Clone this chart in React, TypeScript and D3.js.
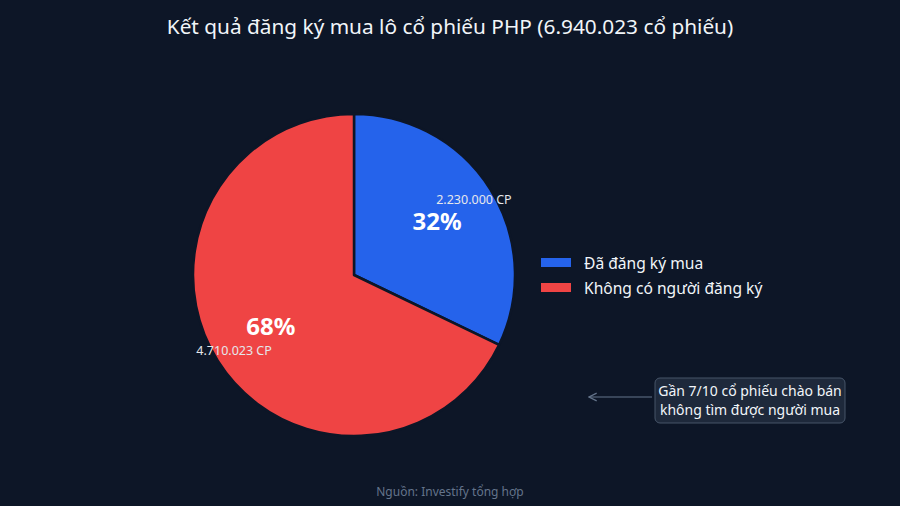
import * as d3 from "d3";

const categories = ["Đã đăng ký mua", "Không có người đăng ký"];
const shares = [2230000, 4710023];
const shareLabels = ["2.230.000 CP", "4.710.023 CP"];
const colors = ["#2563eb", "#ef4444"];

const width = 900;
const height = 506;
const bg = "#0d1627";
const font = "'Noto Sans', sans-serif";

export default function App() {
  const cx = 354;
  const cy = 275;
  const radius = 161;
  const total = d3.sum(shares);

  const pie = d3.pie<number>().sort(null).value((d) => d);
  const arcs = pie(shares);
  const arc = d3.arc<d3.PieArcDatum<number>>().innerRadius(0).outerRadius(radius);
  const pctArc = d3.arc<d3.PieArcDatum<number>>().innerRadius(radius * 0.61).outerRadius(radius * 0.61);
  const amtArc = d3.arc<d3.PieArcDatum<number>>().innerRadius(radius * 0.88).outerRadius(radius * 0.88);

  return (
    <svg
      width={width}
      height={height}
      style={{ display: "block", position: "absolute", left: 0, top: 0, background: bg }}
    >
      <rect width={width} height={height} fill={bg} />
      <text x={450} y={34} textAnchor="middle" fill="#f1f5f9" fontFamily={font} fontSize={20.8}>
        Kết quả đăng ký mua lô cổ phiếu PHP (6.940.023 cổ phiếu)
      </text>

      <g transform={`translate(${cx},${cy})`}>
        {arcs.map((a, i) => (
          <path key={i} d={arc(a) ?? ""} fill={colors[i]} stroke={bg} strokeWidth={2.5} strokeLinejoin="round" />
        ))}
        {arcs.map((a, i) => {
          const [px, py] = pctArc.centroid(a);
          const [ax, ay] = amtArc.centroid(a);
          return (
            <g key={`l${i}`} fontFamily={font} fill="#ffffff">
              <text x={px} y={py - 2} textAnchor="middle" dominantBaseline="central" fontSize={24} fontWeight="bold">
                {d3.format(".0%")(a.data / total)}
              </text>
              <text x={ax} y={ay} textAnchor="middle" dominantBaseline="central" fontSize={12.5} fill="#e5e7eb">
                {shareLabels[i]}
              </text>
            </g>
          );
        })}
      </g>

      <g fontFamily={font}>
        {categories.map((c, i) => (
          <g key={c} transform={`translate(541,${258 + i * 25})`}>
            <rect width={30} height={9} fill={colors[i]} />
            <text x={43} y={5} dominantBaseline="central" fill="#f1f5f9" fontSize={15.6}>
              {c}
            </text>
          </g>
        ))}
      </g>

      <defs>
        <marker id="arrow" viewBox="0 0 10 10" refX={9} refY={5} markerWidth={8} markerHeight={8} orient="auto">
          <path d="M1,1 L9,5 L1,9" fill="none" stroke="#64748b" strokeWidth={1.3} />
        </marker>
      </defs>
      <line x1={652} y1={397} x2={589} y2={397} stroke="#64748b" strokeWidth={1.2} markerEnd="url(#arrow)" />
      <rect x={655} y={378} width={190} height={45} rx={5} fill="#1e293b" stroke="#475569" strokeWidth={1} />
      <g fontFamily={font} fontSize={14} fill="#f1f5f9" textAnchor="middle">
        <text x={750} y={396}>Gần 7/10 cổ phiếu chào bán</text>
        <text x={750} y={415}>không tìm được người mua</text>
      </g>

      <text x={450} y={496} textAnchor="middle" fill="#64748b" fontFamily={font} fontSize={12}>
        Nguồn: Investify tổng hợp
      </text>
    </svg>
  );
}
